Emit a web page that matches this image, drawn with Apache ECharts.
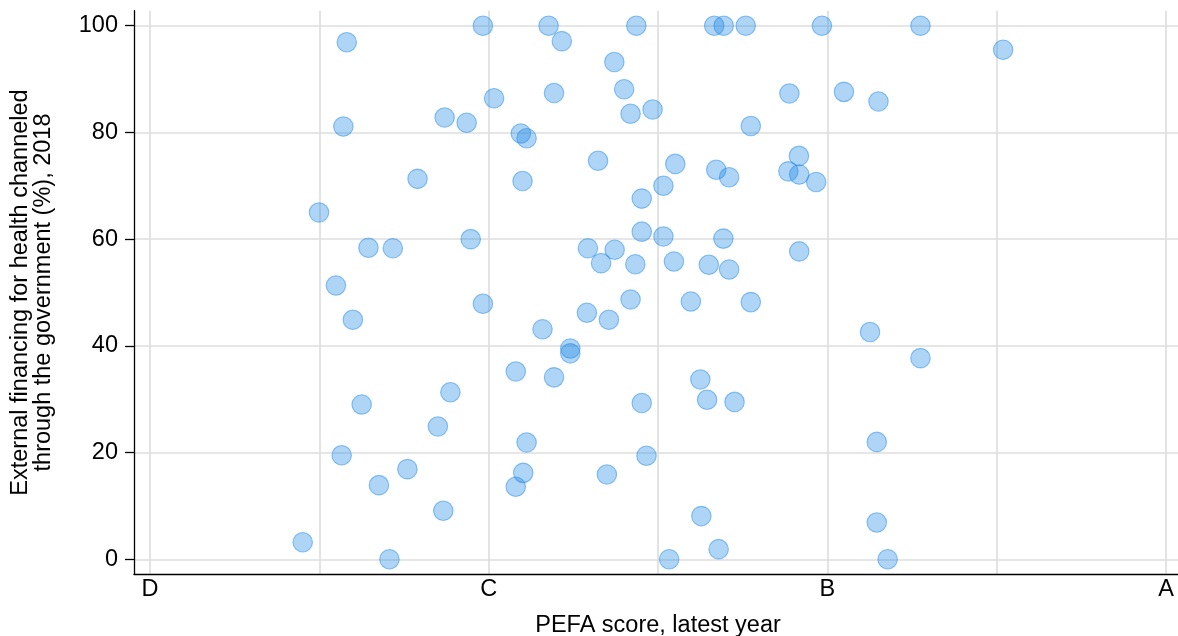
<!DOCTYPE html>
<html>
<head>
<meta charset="utf-8">
<script src="https://cdn.jsdelivr.net/npm/echarts@6/dist/echarts.min.js"></script>
<style>
html,body{margin:0;padding:0;background:#ffffff;}
#chart{width:1178px;height:636px;}
</style>
</head>
<body>
<div id="chart"></div>
<script>
// PEFA score (D=1, C=2, B=3, A=4), latest year
const pefaScore = [
  1.451, 1.499, 1.549, 1.566, 1.571, 1.581, 1.599, 1.625, 1.645, 1.676,
  1.707, 1.717, 1.760, 1.790, 1.850, 1.866, 1.870, 1.887, 1.935, 1.947,
  1.983, 1.983, 2.016, 2.080, 2.080, 2.095, 2.100, 2.102, 2.112, 2.112,
  2.159, 2.177, 2.193, 2.193, 2.216, 2.241, 2.241, 2.290, 2.293, 2.323,
  2.332, 2.349, 2.355, 2.371, 2.372, 2.400, 2.419, 2.419, 2.436, 2.433,
  2.452, 2.452, 2.452, 2.466, 2.484, 2.516, 2.516, 2.533, 2.547, 2.551,
  2.597, 2.625, 2.628, 2.645, 2.650, 2.666, 2.672, 2.679, 2.694, 2.693,
  2.710, 2.710, 2.726, 2.759, 2.774, 2.774, 2.888, 2.885, 2.916, 2.917,
  2.917, 2.967, 2.984, 3.049, 3.126, 3.146, 3.151, 3.146, 3.178, 3.275,
  3.275, 3.519
];
// External financing for health channeled through the government (%), 2018
const extFinancing = [
  3.2, 65.0, 51.3, 19.5, 81.1, 96.9, 44.9, 29.0, 58.4, 13.9,
  0.0, 58.3, 16.9, 71.3, 24.9, 9.1, 82.8, 31.3, 81.8, 60.0,
  100.0, 47.9, 86.4, 35.2, 13.6, 79.8, 70.9, 16.2, 78.9, 21.9,
  43.1, 100.0, 87.4, 34.1, 97.1, 39.5, 38.6, 46.2, 58.3, 74.7,
  55.5, 15.9, 44.9, 93.2, 58.0, 88.1, 83.5, 48.7, 100.0, 55.3,
  67.6, 29.3, 61.4, 19.4, 84.3, 70.0, 60.5, 0.0, 55.8, 74.1,
  48.3, 33.7, 8.1, 29.9, 55.2, 100.0, 73.0, 1.9, 100.0, 60.1,
  71.6, 54.3, 29.5, 100.0, 81.2, 48.2, 87.3, 72.7, 75.6, 72.1,
  57.7, 70.7, 100.0, 87.6, 42.6, 22.0, 85.8, 6.9, 0.0, 100.0,
  37.7, 95.5
];
const xLabelValues = [1, 2, 3, 4];
const xLabelText = ['D', 'C', 'B', 'A'];
const xGridValues = [1, 1.5, 2, 2.5, 3, 3.5, 4];
const yTickValues = [0, 20, 40, 60, 80, 100];

const FONT = 'Liberation Sans, Arial, Helvetica, sans-serif';
const FS = 23.5;

const chart = echarts.init(document.getElementById('chart'), null, {renderer: 'canvas'});
chart.setOption({
  backgroundColor: '#ffffff',
  animation: false,
  textStyle: {fontFamily: FONT},
  grid: {
    left: 134, top: 10.7, width: 1048, height: 563.6,
    containLabel: false, outerBoundsMode: 'none'
  },
  xAxis: {
    type: 'value',
    min: 0.9528, max: 4.0472,
    name: 'PEFA score, latest year',
    nameLocation: 'middle',
    nameGap: 39,
    nameTextStyle: {fontFamily: FONT, fontSize: FS, color: '#000000'},
    axisLine: {show: true, onZero: false, lineStyle: {color: '#000000', width: 1.3}},
    axisTick: {show: false, customValues: xGridValues},
    axisLabel: {
      show: true, customValues: xLabelValues, margin: 3,
      fontFamily: FONT, fontSize: FS, color: '#000000',
      formatter: function (v) { const i = xLabelValues.indexOf(Math.round(v)); return i >= 0 ? xLabelText[i] : ''; }
    },
    splitLine: {show: true, lineStyle: {color: '#dedede', width: 1.7}}
  },
  yAxis: {
    type: 'value',
    min: -2.81, max: 102.81,
    name: 'External financing for health channeled\nthrough the government (%), 2018',
    nameLocation: 'middle',
    nameGap: 79,
    nameTextStyle: {fontFamily: FONT, fontSize: FS, color: '#000000', lineHeight: 23, align: 'center'},
    axisLine: {show: true, onZero: false, lineStyle: {color: '#000000', width: 1.3}},
    axisTick: {show: true, length: 9, customValues: yTickValues, lineStyle: {color: '#000000', width: 1.3}},
    axisLabel: {
      show: true, customValues: yTickValues, margin: 16,
      fontFamily: FONT, fontSize: FS, color: '#000000'
    },
    splitLine: {show: true, lineStyle: {color: '#dedede', width: 1.7}}
  },
  series: [{
    type: 'scatter',
    symbol: 'circle',
    symbolSize: 19.5,
    data: pefaScore.map(function (x, i) { return [x, extFinancing[i]]; }),
    itemStyle: {
      color: 'rgba(30,136,229,0.45)',
      borderColor: 'rgba(30,136,229,0.62)',
      borderWidth: 1.1
    },
    emphasis: {disabled: true}
  }]
});
</script>
</body>
</html>
